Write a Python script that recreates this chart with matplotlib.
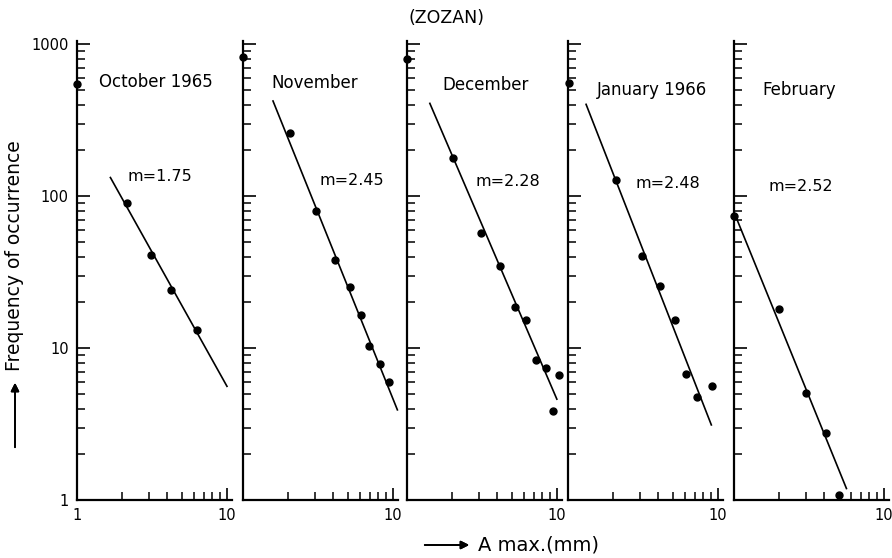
import numpy as np
import matplotlib
matplotlib.use("Agg")
import matplotlib.pyplot as plt
from matplotlib.ticker import LogLocator, NullFormatter, FixedFormatter, FixedLocator

# data (A max in mm, frequency of occurrence)
months = ["October 1965", "November", "December", "January 1966", "February"]
slope_labels = ["m=1.75", "m=2.45", "m=2.28", "m=2.48", "m=2.52"]

amax = [
    [1.0, 2.15, 3.11, 4.22, 6.34],
    [1.0, 2.05, 3.08, 4.1, 5.14, 6.09, 6.92, 8.19, 9.4],
    [1.0, 2.04, 3.11, 4.16, 5.22, 6.25, 7.22, 8.48, 9.35, 10.3],
    [1.02, 2.08, 3.12, 4.1, 5.13, 6.09, 7.27, 9.18],
    [1.0, 2.0, 3.02, 4.13, 5.05],
]
freq = [
    [545, 90.8, 41.2, 24.1, 13.1],
    [829, 259, 79.6, 38.2, 25.1, 16.4, 10.3, 7.85, 5.97],
    [796, 177, 57.3, 34.5, 18.5, 15.4, 8.38, 7.38, 3.86, 6.67],
    [553, 127.5, 40.6, 25.8, 15.2, 6.74, 4.8, 5.67],
    [73.8, 18.1, 5.1, 2.78, 1.08],
]
# fitted straight lines (end points)
fit_x = [(1.67, 10.0), (1.585, 10.7), (1.42, 9.98), (1.32, 9.03), (1.015, 5.62)]
fit_y = [(132.6, 5.6), (423, 3.92), (408, 4.61), (402, 3.12), (75.7, 1.19)]

W, H = 892, 558
fig = plt.figure(figsize=(W / 100, H / 100), dpi=100)
plt.rcParams['font.family'] = ['DejaVu Sans']

# panel layout (pixels)
lefts = [77, 243, 407, 568, 734]
pw, pb, ph = 155, 500, 459
month_pos = [(0.51, 0.911), (0.465, 0.908), (0.51, 0.904), (0.54, 0.893), (0.42, 0.893)]
m_pos = [(0.535, 0.704), (0.70, 0.697), (0.65, 0.693), (0.645, 0.69), (0.43, 0.682)]

for i in range(5):
    ax = fig.add_axes([lefts[i] / W, (H - pb) / H, pw / W, ph / H])
    ax.set_xscale('log')
    ax.set_yscale('log')
    ax.set_xlim(1, 10.8)
    ax.set_ylim(1, 1050)

    ax.plot(fit_x[i], fit_y[i], color='k', lw=1.2, clip_on=False)
    ax.plot(amax[i], freq[i], 'o', color='k', ms=5, clip_on=False, zorder=5)

    for s in ['top', 'right']:
        ax.spines[s].set_visible(False)
    for s in ['left', 'bottom']:
        ax.spines[s].set_linewidth(1.6)

    ax.yaxis.set_major_locator(FixedLocator([1, 10, 100, 1000]))
    ax.yaxis.set_minor_locator(LogLocator(base=10, subs=np.arange(2, 10)))
    ax.yaxis.set_minor_formatter(NullFormatter())
    if i == 0:
        ax.xaxis.set_major_locator(FixedLocator([1, 10]))
        ax.xaxis.set_major_formatter(FixedFormatter(['1', '10']))
        ax.yaxis.set_major_formatter(FixedFormatter(['1', '10', '100', '1000']))
    else:
        ax.xaxis.set_major_locator(FixedLocator([10]))
        ax.xaxis.set_major_formatter(FixedFormatter(['10']))
        ax.yaxis.set_major_formatter(NullFormatter())
    ax.xaxis.set_minor_locator(LogLocator(base=10, subs=np.arange(2, 10)))
    ax.xaxis.set_minor_formatter(NullFormatter())

    ax.tick_params(which='major', direction='in', length=9, width=1.2, labelsize=10.5, pad=6)
    ax.tick_params(which='minor', direction='in', length=6, width=1.1)
    ax.patch.set_alpha(0)

    ax.text(*month_pos[i], months[i], transform=ax.transAxes, ha='center', va='center', fontsize=12)
    ax.text(*m_pos[i], slope_labels[i], transform=ax.transAxes, ha='center', va='center', fontsize=11.5)

fig.text(446 / W, 1 - 18 / H, "(ZOZAN)", ha='center', va='center', fontsize=12.5)
fig.text(15 / W, 1 - 256 / H, "Frequency of occurrence", rotation=90,
         ha='center', va='center', fontsize=13.5)
fig.text(478 / W, 1 - 545 / H, "A max.(mm)", ha='left', va='center', fontsize=14)

arrow = dict(arrowstyle='-|>', color='k', lw=1.3, mutation_scale=12)
fig.add_artist(plt.annotate("", xy=(15 / W, 1 - 380 / H), xytext=(15 / W, 1 - 450 / H),
                            xycoords='figure fraction', arrowprops=arrow, annotation_clip=False))
fig.add_artist(plt.annotate("", xy=(472 / W, 1 - 545 / H), xytext=(422 / W, 1 - 545 / H),
                            xycoords='figure fraction', arrowprops=arrow, annotation_clip=False))

fig.savefig("out.png", dpi=100)
